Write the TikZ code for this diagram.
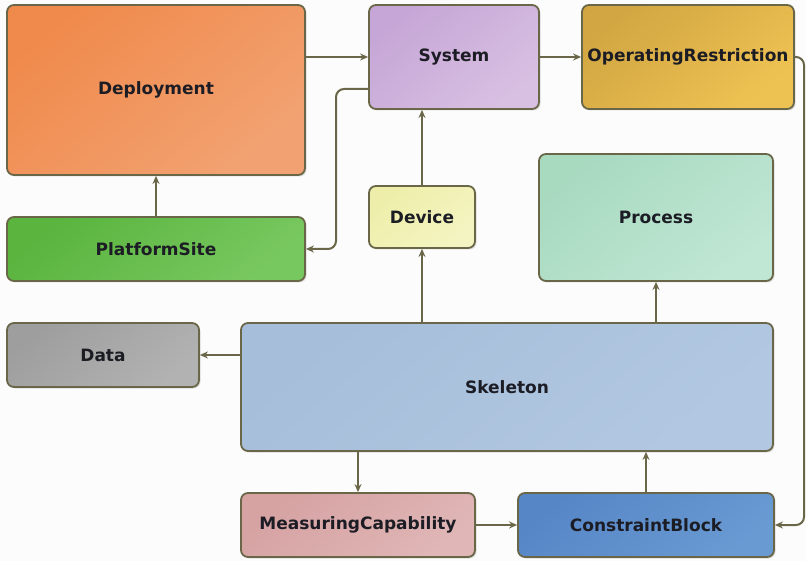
\documentclass[tikz,border=0pt]{standalone}
\usepackage{fontspec}
\setmainfont{DejaVu Sans}
\usetikzlibrary{arrows.meta,shadows}
\definecolor{edge}{HTML}{6A6648}
\definecolor{txt}{HTML}{1C1C24}
\definecolor{bg}{HTML}{FCFCFC}
\definecolor{depA}{HTML}{F08A4C}\definecolor{depB}{HTML}{F2A272}
\definecolor{sysA}{HTML}{C6A6D6}\definecolor{sysB}{HTML}{D8C0E2}
\definecolor{oprA}{HTML}{D2A642}\definecolor{oprB}{HTML}{EEC252}
\definecolor{platA}{HTML}{5AB43E}\definecolor{platB}{HTML}{78C860}
\definecolor{devA}{HTML}{EEEEAA}\definecolor{devB}{HTML}{F4F4C2}
\definecolor{procA}{HTML}{A8DAC0}\definecolor{procB}{HTML}{C0E6D4}
\definecolor{dataA}{HTML}{9E9E9E}\definecolor{dataB}{HTML}{B2B2B2}
\definecolor{skA}{HTML}{A6BEDA}\definecolor{skB}{HTML}{B2C8E2}
\definecolor{mcA}{HTML}{D6A2A2}\definecolor{mcB}{HTML}{E0B6B6}
\definecolor{cbA}{HTML}{5686C6}\definecolor{cbB}{HTML}{6A9AD2}
\tikzset{
  box/.style={draw=edge, line width=1.8pt, rounded corners=7pt,
    font=\fontsize{17}{20}\selectfont\bfseries, text=txt,
    drop shadow={shadow xshift=1.5pt, shadow yshift=-1.5pt, opacity=0.22, fill=black!60}},
  grad/.style={top color=#1A, bottom color=#1B, shading angle=40},
  conn/.style={draw=edge, line width=2pt, -{Stealth[length=8pt,width=7pt]}},
}
\begin{document}
\begin{tikzpicture}[x=1pt,y=-1pt]
\useasboundingbox[fill=bg] (0,0) rectangle (806,561);
\node[box, grad=dep, minimum width=298pt, minimum height=170pt] (dep) at (156,90) {Deployment};
\node[box, grad=sys, minimum width=170pt, minimum height=104pt] (sys) at (454,57) {System};
\node[box, grad=opr, minimum width=212pt, minimum height=104pt] (opr) at (688,57) {OperatingRestriction};
\node[box, grad=plat, minimum width=298pt, minimum height=64pt] (plat) at (156,249) {PlatformSite};
\node[box, grad=dev, minimum width=106pt, minimum height=62pt] (dev) at (422,217) {Device};
\node[box, grad=proc, minimum width=234pt, minimum height=127pt] (proc) at (656,217.5) {Process};
\node[box, grad=data, minimum width=192pt, minimum height=64pt] (data) at (103,355) {Data};
\node[box, grad=sk, minimum width=532pt, minimum height=128pt] (sk) at (507,387) {Skeleton};
\node[box, grad=mc, minimum width=234pt, minimum height=64pt] (mc) at (358,525) {MeasuringCapability};
\node[box, grad=cb, minimum width=256pt, minimum height=64pt] (cb) at (646,525) {ConstraintBlock};
\draw[conn] (dep.east |- sys.west) -- (sys.west);
\draw[conn] (sys.east) -- (opr.west);
\draw[conn, rounded corners=8pt] ([yshift=-32pt]sys.west) -- (336,89) |- (plat.east);
\draw[conn] (plat.north) -- (dep.south);
\draw[conn] (dev.north) -- (dev.north |- sys.south);
\draw[conn] (sk.north -| dev.south) -- (dev.south);
\draw[conn] (sk.north -| proc.south) -- (proc.south);
\draw[conn, rounded corners=8pt] (opr.east) -- (804,57) |- (cb.east);
\draw[conn] (sk.west |- data.east) -- (data.east);
\draw[conn] (sk.south -| mc.north) -- (mc.north);
\draw[conn] (mc.east) -- (cb.west);
\draw[conn] (cb.north) -- (cb.north |- sk.south);
\end{tikzpicture}
\end{document}
